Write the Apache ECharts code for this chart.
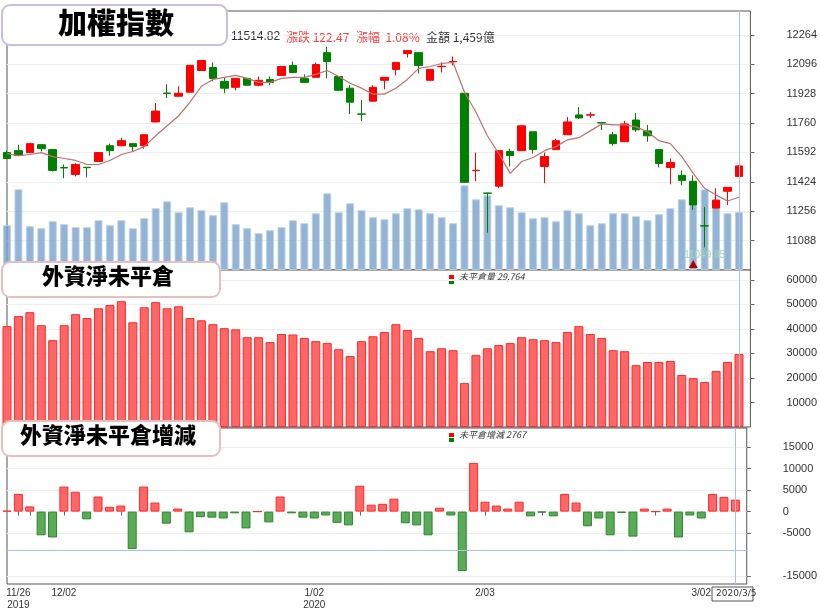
<!DOCTYPE html>
<html><head><meta charset="utf-8">
<script src="https://cdn.jsdelivr.net/npm/echarts@6/dist/echarts.min.js"></script>
<style>html,body{margin:0;padding:0;background:#fff}#c{width:820px;height:611px}</style>
</head><body><div id="c"></div>
<script>
const dates = ['2019/11/25','2019/11/26','2019/11/27','2019/11/28','2019/11/29',
'2019/12/02','2019/12/03','2019/12/04','2019/12/05','2019/12/06','2019/12/09','2019/12/10','2019/12/11','2019/12/12','2019/12/13',
'2019/12/16','2019/12/17','2019/12/18','2019/12/19','2019/12/20','2019/12/23','2019/12/24','2019/12/25','2019/12/26','2019/12/27','2019/12/30','2019/12/31',
'2020/01/02','2020/01/03','2020/01/06','2020/01/07','2020/01/08','2020/01/09','2020/01/10','2020/01/13','2020/01/14','2020/01/15','2020/01/16','2020/01/17','2020/01/20','2020/01/30','2020/01/31',
'2020/02/03','2020/02/04','2020/02/05','2020/02/06','2020/02/07','2020/02/10','2020/02/11','2020/02/12','2020/02/13','2020/02/14','2020/02/17','2020/02/18','2020/02/19','2020/02/20','2020/02/21','2020/02/24','2020/02/25','2020/02/26','2020/02/27',
'2020/03/02','2020/03/03','2020/03/04','2020/03/05',''];
// [open, close, low, high]
const ohlc = [
[11591,11557,11557,11602],[11602,11574,11574,11636],[11591,11642,11591,11642],[11636,11613,11597,11640],[11608,11489,11483,11608],
[11506,11503,11444,11523],[11466,11523,11455,11529],[11507,11505,11449,11508],[11540,11591,11538,11593],[11630,11602,11574,11642],
[11630,11659,11628,11676],[11642,11625,11597,11644],[11630,11693,11613,11695],[11766,11828,11764,11874],[11931,11929,11902,11981],
[11913,11930,11911,11970],[11936,12089,11934,12091],[12060,12117,12058,12119],[12077,12015,11998,12106],[11998,11959,11930,12021],
[11964,12015,11947,12017],[12015,11976,11974,12017],[11976,12004,11970,12026],[12009,11992,11976,12026],[12032,12083,12030,12085],
[12089,12049,12047,12111],[12015,11992,11990,12038],[12021,12094,12019,12106],[12162,12111,12015,12196],[12026,11947,11945,12028],
[11959,11879,11811,11976],[11812,11810,11772,11891],[11885,11964,11883,11976],[12004,12021,11953,12023],[12066,12106,12032,12108],
[12157,12174,12134,12176],[12162,12089,12043,12164],[12004,12066,12002,12068],[12082,12084,12049,12106],[12110,12112,12089,12140],
[11930,11421,11419,11932],[11488,11490,11427,11591],[11360,11358,11133,11361],[11399,11602,11387,11604],[11597,11574,11512,11613],
[11602,11744,11600,11746],[11710,11608,11585,11712],[11512,11568,11416,11591],[11608,11659,11606,11670],[11693,11766,11691,11794],
[11806,11789,11783,11851],[11805,11807,11789,11823],[11762,11760,11721,11766],[11693,11642,11630,11710],[11653,11755,11651,11772],
[11777,11721,11710,11817],[11715,11687,11653,11749],[11608,11529,11506,11610],[11506,11534,11410,11557],[11461,11432,11404,11489],
[11427,11291,11263,11461],[11173,11171,11049.85,11280],[11274,11319,11272,11387],[11370,11392.35,11291,11394],[11455,11514.82,11453,11520]];
const ma = [11585,11574,11580,11591,11568,11557,11546,11523,11523,11546,11580,11597,11625,11687,11744,11800,11879,11970,12009,12021,
12032,12015,11992,11992,12015,12021,12021,12038,12060,12026,11987,11959,11925,11925,11959,12009,12072,12083,12100,12106,
11936,11823,11687,11585,11472,11540,11563,11602,11625,11664,11676,11715,11755,11749,11749,11738,11710,11659,11642,11568,
11472,11387,11348,11314,11336];
const volume = [1125,2025,1100,1050,1225,1150,1075,1075,1250,1125,1250,1050,1300,1550,1725,1450,1575,1500,1375,1700,
1150,1050,925,1000,1075,1250,1175,1425,1925,1450,1675,1500,1325,1275,1425,1550,1525,1425,1325,1175,
2125,1775,1875,1625,1575,1450,1300,1325,1225,1500,1425,1125,1175,1425,1425,1350,1250,1400,1550,1775,
1625,2025,1775,1425,1459];
const oi = [41100,45200,46800,41500,35400,41500,46000,44400,48400,49700,51300,42700,48800,50900,48400,49200,44400,43500,41900,40300,
39800,36600,36600,34600,37900,37700,36300,35000,34200,31700,28900,35000,37000,38700,41900,39500,36300,30900,32100,31300,
17900,29300,32100,33400,34200,36600,35800,35400,34600,38700,41100,37900,36300,31300,30900,25200,26500,26500,26900,21200,
19900,18300,22800,26500,29764];
const oiChg = [200,4100,1200,-5500,-6000,5800,4600,-1800,3500,1100,1400,-8700,5800,2100,-2800,700,-4800,-1300,-1400,-1600,
-400,-3900,0,-2500,3500,-400,-1400,-1600,-900,-2600,-3200,6000,1600,1800,3000,-2700,-3200,-5500,900,-900,
-13800,11300,2300,1400,700,2300,-1100,-200,-1100,4100,2100,-3400,-1600,-5500,-300,-5800,700,0,700,-6000,
-900,-1600,4100,3400,2767];
const priceTicks = [11088,11256,11424,11592,11760,11928,12096,12264];
const oiTicks = [10000,20000,30000,40000,50000,60000];
const chgTicks = [-15000,-5000,0,5000,10000,15000];
const xLabels = {1:'11/26\n2019',5:'12/02',27:'1/02\n2020',42:'2/03',61:'3/02'};
const tickIdx = [1,2,3,5,10,16,21,27,31,35,40,42,47,52,57,61];

const RED='#ff6666', REDB='#ff2a2a', GRN='#5aaa5a', GRNB='#2a882a';
const chart = echarts.init(document.getElementById('c'));
const gridBase = {left:7, right:67, show:true, borderColor:'#555', borderWidth:1, backgroundColor:'#fff'};
const xBase = (gi, show) => ({type:'category', gridIndex:gi, data:dates, boundaryGap:false,
  axisLine:{show:false}, splitLine:{show:false},
  axisTick:{show:show, length:4, lineStyle:{color:'#666'}, interval:(i)=>tickIdx.includes(i)},
  axisLabel:{show:show, interval:(i)=>xLabels[i]!==undefined, formatter:(v,i)=>xLabels[i]||'', color:'#333', fontSize:10, lineHeight:12, margin:3}});
const yBase = (gi, min, max, ticks) => ({type:'value', gridIndex:gi, position:'right', min:min, max:max,
  axisLine:{show:false}, axisTick:{show:true, customValues:ticks, length:4, lineStyle:{color:'#666'}},
  axisLabel:{customValues:ticks, formatter:(v)=>String(v), color:'#333', fontSize:11, align:'left', margin:36},
  splitLine:{show:true, lineStyle:{color:'#eeeeee'}}});
const vline = {silent:true, symbol:'none', label:{show:false}, lineStyle:{color:'#a9c2e6', type:'solid', width:1}, data:[{xAxis:dates[64]}]};

chart.setOption({
  animation:false,
  grid:[Object.assign({top:11, height:259}, gridBase), Object.assign({top:270, height:157}, gridBase), Object.assign({top:428, height:158}, gridBase)],
  xAxis:[xBase(0,false), xBase(0,false), xBase(1,false), xBase(2,true)],
  yAxis:[yBase(0,10920,12400,priceTicks),
    {type:'value', gridIndex:0, min:0, max:6500, show:false},
    yBase(1,0,64000,oiTicks), yBase(2,-16800,19400,chgTicks)],
  series:[
    {type:'bar', xAxisIndex:1, yAxisIndex:1, data:volume, barWidth:8, z:1,
      itemStyle:{color:'rgba(120,161,203,0.8)', borderColor:'rgba(190,210,230,0.9)', borderWidth:1}},
    {type:'candlestick', xAxisIndex:0, yAxisIndex:0, data:ohlc, barWidth:8, z:3,
      itemStyle:{color:'#ff0000', color0:'#008000', borderColor:'#ff0000', borderColor0:'#008000', borderWidth:1},
      markLine:vline,
      markPoint:{silent:true, data:[
        {coord:[dates[60],10955], symbol:'triangle', symbolSize:[9,8], itemStyle:{color:'#b00000'}, label:{show:false}},
        {coord:[dates[61],11005], symbol:'rect', symbolSize:1, itemStyle:{color:'transparent'}, label:{show:true, formatter:'11049.85', color:'#a8d4aa', fontSize:10}}]}},
    {type:'line', xAxisIndex:0, yAxisIndex:0, data:ma, symbol:'none', z:4, lineStyle:{color:'#c07070', width:1.2}},
    {type:'bar', xAxisIndex:2, yAxisIndex:2, data:oi, barWidth:9,
      itemStyle:{color:RED, borderColor:REDB, borderWidth:1}, markLine:vline},
    {type:'bar', xAxisIndex:3, yAxisIndex:3, barWidth:9,
      data:oiChg.map(v=>({value:v, itemStyle:v>=0?{color:RED,borderColor:REDB,borderWidth:1}:{color:GRN,borderColor:GRNB,borderWidth:1}})),
      markLine:{silent:true, symbol:'none', label:{show:false}, lineStyle:{color:'#a9c2e6', type:'solid', width:1},
        data:[{xAxis:dates[64]},{yAxis:-9000}]}}
  ],
  graphic:[
    {type:'text', left:231, top:31, style:{text:'11514.82', fill:'#333', font:'12px "Liberation Sans"'}},
    {type:'text', left:286, top:31, style:{text:'漲跌 122.47', fill:'#ff3b3b', font:'12px "Noto Sans CJK TC"'}},
    {type:'text', left:356, top:31, style:{text:'漲幅  1.08%', fill:'#ff3b3b', font:'12px "Noto Sans CJK TC"'}},
    {type:'text', left:426, top:31, style:{text:'金額 1,459億', fill:'#333', font:'12px "Noto Sans CJK TC"'}},
    {type:'rect', shape:{x:449,y:275,width:5,height:4}, style:{fill:'#ff0000'}},
    {type:'rect', shape:{x:449,y:280,width:5,height:4}, style:{fill:'#008000'}},
    {type:'text', left:459, top:272, style:{text:'未平倉量 29,764', fill:'#333', font:'italic 9px "Noto Sans CJK TC"'}},
    {type:'rect', shape:{x:449,y:433,width:5,height:4}, style:{fill:'#ff0000'}},
    {type:'rect', shape:{x:449,y:438,width:5,height:4}, style:{fill:'#008000'}},
    {type:'text', left:459, top:430, style:{text:'未平倉增減 2767', fill:'#333', font:'italic 9px "Noto Sans CJK TC"'}},
    {type:'rect', z:100, shape:{x:2,y:5,width:225,height:40,r:8}, style:{fill:'#fff', stroke:'#c9bfdc', lineWidth:2}},
    {type:'text', z:101, left:58, top:8, style:{text:'加權指數', fill:'#000', font:'900 29px "Noto Sans CJK TC"'}},
    {type:'rect', z:100, shape:{x:2,y:262,width:218,height:35,r:8}, style:{fill:'#fff', stroke:'#e6c0c0', lineWidth:2}},
    {type:'text', z:101, left:42, top:265, style:{text:'外資淨未平倉', fill:'#000', font:'900 22px "Noto Sans CJK TC"'}},
    {type:'rect', z:100, shape:{x:2,y:421,width:218,height:35,r:8}, style:{fill:'#fff', stroke:'#e6c0c0', lineWidth:2}},
    {type:'text', z:101, left:20, top:424, style:{text:'外資淨未平倉增減', fill:'#000', font:'900 22px "Noto Sans CJK TC"'}},
    {type:'rect', z:100, shape:{x:712,y:587,width:41,height:14}, style:{fill:'#fff', stroke:'#555', lineWidth:1}},
    {type:'text', z:101, left:716, top:589, style:{text:'2020/3/5', fill:'#333', font:'9px "DejaVu Sans"'}}
  ]
});
</script></body></html>
